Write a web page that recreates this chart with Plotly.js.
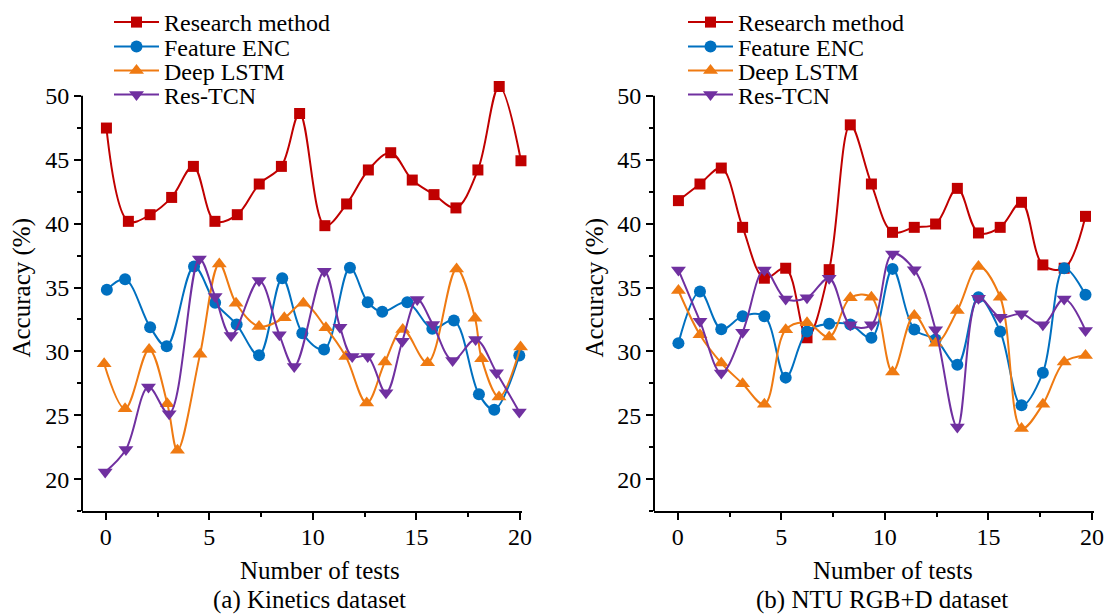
<!DOCTYPE html>
<html>
<head>
<meta charset="utf-8">
<script src="https://cdn.plot.ly/plotly-3.0.1.min.js"></script>
<style>
  html, body { margin: 0; padding: 0; background: #fff; }
  #chart { width: 1108px; height: 614px; }
</style>
</head>
<body>
<div id="chart"></div>
<script>
// Method names (legend order)
const methods = ['Research method', 'Feature ENC', 'Deep LSTM', 'Res-TCN'];

// (a) Kinetics dataset: test index and accuracy (%) per method
const kinResearchX = [0.03, 1.09, 2.14, 3.18, 4.23, 5.27, 6.35, 7.41, 8.48, 9.36, 10.58, 11.63, 12.68, 13.76, 14.8, 15.85, 16.91, 17.97, 19.0, 20.05];
const kinResearchY = [47.48, 40.18, 40.7, 42.05, 44.48, 40.18, 40.7, 43.1, 44.48, 48.62, 39.84, 41.54, 44.2, 45.55, 43.41, 42.27, 41.23, 44.2, 50.73, 44.92];
const kinEncX = [0.05, 0.93, 2.14, 2.94, 4.26, 5.28, 6.32, 7.4, 8.52, 9.49, 10.54, 11.79, 12.65, 13.35, 14.56, 15.77, 16.81, 18.02, 18.76, 19.97];
const kinEncY = [34.82, 35.65, 31.9, 30.4, 36.64, 33.8, 32.1, 29.7, 35.73, 31.43, 30.16, 36.54, 33.85, 33.1, 33.85, 31.77, 32.42, 26.64, 25.44, 29.69];
const kinLstmX = [-0.08, 0.93, 2.09, 2.97, 3.46, 4.55, 5.48, 6.29, 7.4, 8.62, 9.54, 10.63, 11.59, 12.6, 13.48, 14.34, 15.54, 16.94, 17.83, 18.15, 18.99, 20.03];
const kinLstmY = [29.04, 25.52, 30.16, 25.91, 22.27, 29.77, 36.85, 33.77, 31.95, 32.63, 33.77, 31.85, 29.6, 25.96, 29.17, 31.72, 29.12, 36.46, 32.6, 29.43, 26.43, 30.34];
const kinTcnX = [-0.03, 0.97, 2.06, 3.06, 4.52, 5.28, 6.05, 7.4, 8.38, 9.1, 10.55, 11.31, 11.9, 12.65, 13.53, 14.32, 15.04, 15.79, 16.75, 17.86, 18.87, 19.97];
const kinTcnY = [20.57, 22.32, 27.21, 25.13, 37.24, 34.3, 31.25, 35.55, 31.3, 28.83, 36.28, 31.9, 29.6, 29.6, 26.77, 30.8, 34.06, 32.11, 29.3, 30.94, 28.33, 25.26];

// (b) NTU RGB+D dataset: shared test index, accuracy (%) per method
const ntuX = [0.03, 1.07, 2.1, 3.13, 4.18, 5.21, 6.24, 7.31, 8.33, 9.35, 10.37, 11.42, 12.45, 13.5, 14.52, 15.57, 16.6, 17.63, 18.66, 19.69];
const ntuResearchY = [41.8, 43.1, 44.35, 39.71, 35.73, 36.51, 31.07, 36.4, 47.73, 43.1, 39.32, 39.71, 39.97, 42.76, 39.27, 39.71, 41.67, 36.77, 36.51, 40.57];
const ntuEncY = [30.65, 34.69, 31.74, 32.76, 32.76, 27.95, 31.56, 32.16, 32.11, 31.07, 36.46, 31.72, 30.94, 28.96, 34.24, 31.56, 25.78, 28.33, 36.51, 34.43];
const ntuLstmY = [34.77, 31.3, 29.09, 27.47, 25.86, 31.7, 32.24, 31.12, 34.2, 34.24, 28.39, 32.81, 30.65, 33.2, 36.64, 34.24, 23.96, 25.86, 29.17, 29.69];
const ntuTcnY = [36.38, 32.37, 28.31, 31.51, 36.38, 34.11, 34.2, 35.73, 32.08, 32.08, 37.63, 36.4, 31.7, 24.09, 34.17, 32.68, 32.94, 32.08, 34.11, 31.64];

// Axis tick settings
const xTickStart = 0, xTickStep = 5, xMinorStep = 2.5;
const yTickStart = 20, yTickStep = 5, yMinorStep = 2.5;

// Panel titles and axis titles
const panelTitles = ['(a) Kinetics dataset', '(b) NTU RGB+D dataset'];
const xTitle = 'Number of tests';
const yTitle = 'Accuracy (%)';

// Marker / line styles per method
const styles = [
  { color: '#C00000', symbol: 'square', size: 11 },
  { color: '#0070C0', symbol: 'circle', size: 12 },
  { color: '#EF7A12', symbol: 'triangle-up', size: 13 },
  { color: '#7030A0', symbol: 'triangle-down', size: 13 }
];

const FONT = 'Liberation Serif, Times New Roman, serif';

const panels = [
  { xa: 'x', ya: 'y', series: [
      [kinResearchX, kinResearchY], [kinEncX, kinEncY], [kinLstmX, kinLstmY], [kinTcnX, kinTcnY]
    ] },
  { xa: 'x2', ya: 'y2', series: [
      [ntuX, ntuResearchY], [ntuX, ntuEncY], [ntuX, ntuLstmY], [ntuX, ntuTcnY]
    ] }
];

function legendKey(pi, si) {
  const n = pi * 4 + si;
  return n === 0 ? 'legend' : 'legend' + (n + 1);
}

const traces = [];
panels.forEach((p, pi) => {
  p.series.forEach((s, si) => {
    const st = styles[si];
    traces.push({
      type: 'scatter', mode: 'lines+markers',
      name: methods[si],
      x: s[0], y: s[1],
      xaxis: p.xa, yaxis: p.ya,
      legend: legendKey(pi, si),
      showlegend: true,
      line: { color: st.color, width: 2, shape: 'spline', smoothing: 1 },
      marker: { color: st.color, symbol: st.symbol, size: st.size, line: { width: 0 } },
      cliponaxis: false,
      hoverinfo: 'x+y+name'
    });
  });
});

// Plot-area geometry in pixels
const W = 1108, H = 614;
const panelPx = [[82, 522], [654, 1094]];
const plotBottomPx = 511, plotTopPx = 75.8;
const yDomain = [1 - plotBottomPx / H, 1 - plotTopPx / H];

function xAxis(pi) {
  return {
    domain: [panelPx[pi][0] / W, panelPx[pi][1] / W],
    range: [-1.15, 20.1],
    anchor: pi === 0 ? 'y' : 'y2',
    showline: true, linewidth: 2, linecolor: '#000',
    ticks: 'outside', ticklen: 7, tickwidth: 2, tickcolor: '#000',
    tickmode: 'linear', tick0: xTickStart, dtick: xTickStep,
    minor: { ticks: 'outside', dtick: xMinorStep, ticklen: 4, tickwidth: 2, tickcolor: '#000', showgrid: false },
    showgrid: false, zeroline: false,
    ticklabelstandoff: -4,
    tickfont: { family: FONT, size: 24, color: '#000' }
  };
}
function yAxis(pi) {
  return {
    domain: yDomain,
    range: [17.5, 51.5],
    anchor: pi === 0 ? 'x' : 'x2',
    showline: false,
    ticks: 'outside', ticklen: 7, tickwidth: 2, tickcolor: '#000',
    tickmode: 'linear', tick0: yTickStart, dtick: yTickStep,
    minor: { ticks: 'outside', dtick: yMinorStep, ticklen: 4, tickwidth: 2, tickcolor: '#000', showgrid: false },
    showgrid: false, zeroline: false,
    tickfont: { family: FONT, size: 24, color: '#000' }
  };
}

// One single-entry legend per method and panel, stacked tightly
const legendRowsPx = [22, 47, 71, 95];
const legendLeftPx = [109, 683];
const layout = {
  width: W, height: H,
  margin: { l: 0, r: 0, t: 0, b: 0 },
  paper_bgcolor: '#fff', plot_bgcolor: '#fff',
  showlegend: true,
  xaxis: xAxis(0), yaxis: yAxis(0),
  xaxis2: xAxis(1), yaxis2: yAxis(1),
  shapes: [0, 1].map(pi => ({
    type: 'line', xref: (pi === 0 ? 'x' : 'x2') + ' domain', yref: pi === 0 ? 'y' : 'y2',
    x0: 0, x1: 0, y0: 17.5, y1: 50,
    line: { color: '#000', width: 2 }
  })),
  annotations: []
};
for (let pi = 0; pi < 2; pi++) {
  for (let si = 0; si < 4; si++) {
    layout[legendKey(pi, si)] = {
      x: legendLeftPx[pi] / W, xanchor: 'left',
      y: 1 - legendRowsPx[si] / H, yanchor: 'middle',
      bgcolor: 'rgba(0,0,0,0)', borderwidth: 0,
      itemwidth: 45,
      font: { family: FONT, size: 24, color: '#000' }
    };
  }
}
const xTitleCenterPx = [320, 893];
const subTitleCenterPx = [309, 882];
const yTitleCenterPx = [22, 595];
for (let pi = 0; pi < 2; pi++) {
  layout.annotations.push({
    text: xTitle, xref: 'paper', yref: 'paper', showarrow: false,
    x: xTitleCenterPx[pi] / W, y: 1 - 570 / H, xanchor: 'center', yanchor: 'middle',
    font: { family: FONT, size: 25, color: '#000' }
  });
  layout.annotations.push({
    text: panelTitles[pi], xref: 'paper', yref: 'paper', showarrow: false,
    x: subTitleCenterPx[pi] / W, y: 1 - 600 / H, xanchor: 'center', yanchor: 'middle',
    font: { family: FONT, size: 25, color: '#000' }
  });
  layout.annotations.push({
    text: yTitle, xref: 'paper', yref: 'paper', showarrow: false, textangle: -90,
    x: yTitleCenterPx[pi] / W, y: 1 - 287 / H, xanchor: 'center', yanchor: 'middle',
    font: { family: FONT, size: 25, color: '#000' }
  });
}

Plotly.newPlot('chart', traces, layout, { staticPlot: true, displayModeBar: false });
</script>
</body>
</html>
